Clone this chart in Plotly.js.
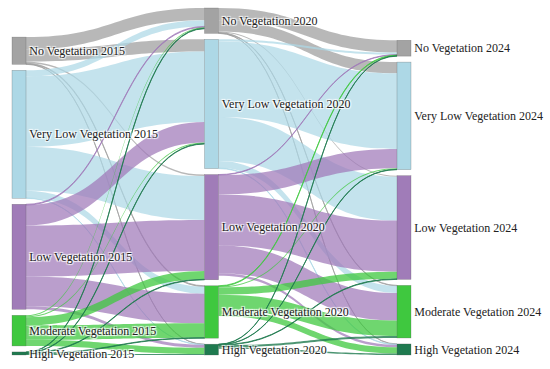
<!DOCTYPE html>
<html>
<head>
<meta charset="utf-8">
<script src="https://cdn.plot.ly/plotly-3.0.1.min.js"></script>
<style>html,body{margin:0;padding:0;background:#fff}#chart{width:550px;height:369px}</style>
</head>
<body>
<div id="chart"></div>
<script>
// Node labels (3 years x 5 classes)
const labels2015 = ['No Vegetation 2015', 'Very Low Vegetation 2015', 'Low Vegetation 2015', 'Moderate Vegetation 2015', 'High Vegetation 2015'];
const labels2020 = ['No Vegetation 2020', 'Very Low Vegetation 2020', 'Low Vegetation 2020', 'Moderate Vegetation 2020', 'High Vegetation 2020'];
const labels2024 = ['No Vegetation 2024', 'Very Low Vegetation 2024', 'Low Vegetation 2024', 'Moderate Vegetation 2024', 'High Vegetation 2024'];

// Transition flows: rows = source class, columns = target class
// order: No, Very Low, Low, Moderate, High
const flow2015to2020 = [
  [12, 12, 1.5, 0.8, 0.3],
  [6, 69, 43, 7, 0.3],
  [0.8, 20, 50, 29, 3],
  [1, 1, 8, 14, 6],
  [0.5, 0.5, 0.5, 0.5, 1]
];
const flow2020to2024 = [
  [12, 11, 1, 0.5, 0.3],
  [2, 74, 43, 7, 0.5],
  [0.5, 19, 50, 27, 2.5],
  [0.7, 1, 7, 15, 6],
  [0.3, 0.3, 0.5, 2, 1.5]
];

// Class colours
const nodeColors = ['#a3a3a3', '#add8e6', '#a07cb8', '#3fc83f', '#1f7a4f'];
const linkColors = ['rgba(160,160,160,0.75)', 'rgba(173,216,230,0.72)', 'rgba(160,120,185,0.72)', 'rgba(63,200,63,0.75)', 'rgba(31,122,79,0.8)'];

const labels = labels2015.concat(labels2020, labels2024);
const colors = nodeColors.concat(nodeColors, nodeColors);
const source = [], target = [], value = [], lcolor = [];
[flow2015to2020, flow2020to2024].forEach((m, p) => {
  m.forEach((row, i) => row.forEach((v, j) => {
    source.push(p * 5 + i);
    target.push((p + 1) * 5 + j);
    value.push(v);
    lcolor.push(linkColors[i]);
  }));
});

// ---- layout geometry (derived from the data: columns stacked from the bottom) ----
const W = 550, H = 369;
const padTop = 8, padBottom = 355, padLeft = 12, padRight = W;
const thickness = 14, nodePad = 6, colStep = 192.5;
const Hd = padBottom - padTop, Wd = padRight - padLeft;
const inSum = new Array(15).fill(0), outSum = new Array(15).fill(0);
source.forEach((s, k) => { outSum[s] += value[k]; inSum[target[k]] += value[k]; });
const nodeVal = inSum.map((v, i) => Math.max(v, outSum[i]));
const cols = [[0,1,2,3,4],[5,6,7,8,9],[10,11,12,13,14]];
const ky = Math.min(...cols.map(c => (Hd - (c.length - 1) * nodePad) / c.reduce((a, i) => a + nodeVal[i], 0)));
const nodeX = new Array(15), nodeY = new Array(15);
cols.forEach((c, ci) => {
  let y1 = Hd;
  for (let k = c.length - 1; k >= 0; k--) {
    const h = nodeVal[c[k]] * ky;
    nodeY[c[k]] = (y1 - h / 2) / Hd;
    nodeX[c[k]] = (thickness / 2 + ci * colStep) / Wd;
    y1 -= h + nodePad;
  }
});

// invisible spacer node (placed off-canvas) so the 2024 labels sit on the right of their nodes
labels.push(''); colors.push('rgba(255,255,255,0)');
nodeX.push(1.3); nodeY.push(0.5);
cols[2].forEach(i => { source.push(i); target.push(15); value.push(1e-4); lcolor.push('rgba(255,255,255,0)'); });

const data = [{
  type: 'sankey',
  orientation: 'h',
  arrangement: 'snap',
  hoverinfo: 'none',
  domain: {x: [padLeft / W, padRight / W], y: [1 - padBottom / H, 1 - padTop / H]},
  node: {
    label: labels,
    color: colors,
    x: nodeX,
    y: nodeY,
    pad: nodePad,
    thickness: thickness,
    line: {color: 'rgba(80,80,80,0.5)', width: 0.5}
  },
  link: {source: source, target: target, value: value, color: lcolor},
  textfont: {family: 'Liberation Serif, "Times New Roman", serif', size: 12, color: '#222'}
}];
const layout = {
  width: W, height: H,
  margin: {l: 0, r: 0, t: 0, b: 0},
  paper_bgcolor: '#fff',
  font: {family: 'Liberation Serif, "Times New Roman", serif', size: 12, color: '#222'}
};
Plotly.newPlot('chart', data, layout, {displayModeBar: false});
</script>
</body>
</html>
